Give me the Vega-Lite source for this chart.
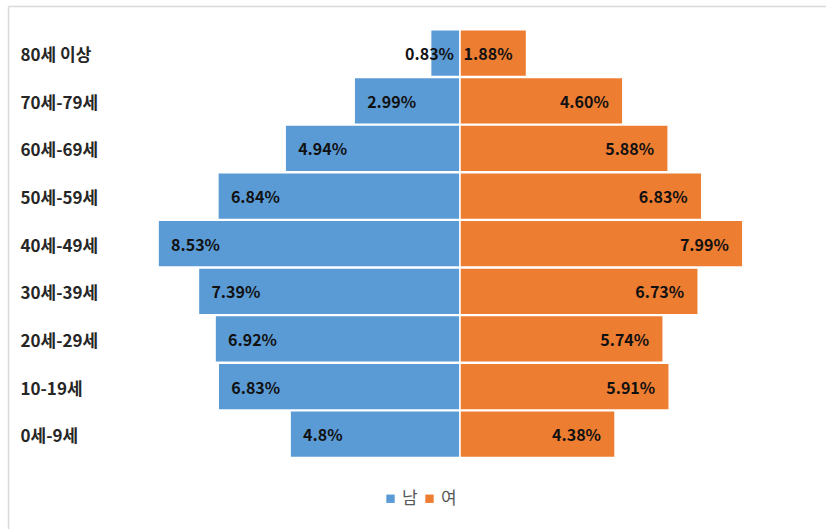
{
  "$schema": "https://vega.github.io/schema/vega-lite/v6.json",
  "width": 818,
  "height": 523,
  "padding": {"left": 8, "top": 6, "right": 0, "bottom": 0},
  "autosize": {"type": "none"},
  "background": "white",
  "config": {
    "view": {"stroke": null},
    "font": "Noto Sans CJK KR"
  },
  "data": {
    "values": [
      {"age": "80세 이상", "sex": "남", "value": 0.83, "label": "0.83%"},
      {"age": "70세-79세", "sex": "남", "value": 2.99, "label": "2.99%"},
      {"age": "60세-69세", "sex": "남", "value": 4.94, "label": "4.94%"},
      {"age": "50세-59세", "sex": "남", "value": 6.84, "label": "6.84%"},
      {"age": "40세-49세", "sex": "남", "value": 8.53, "label": "8.53%"},
      {"age": "30세-39세", "sex": "남", "value": 7.39, "label": "7.39%"},
      {"age": "20세-29세", "sex": "남", "value": 6.92, "label": "6.92%"},
      {"age": "10-19세", "sex": "남", "value": 6.83, "label": "6.83%"},
      {"age": "0세-9세", "sex": "남", "value": 4.8, "label": "4.8%"},
      {"age": "80세 이상", "sex": "여", "value": 1.88, "label": "1.88%"},
      {"age": "70세-79세", "sex": "여", "value": 4.6, "label": "4.60%"},
      {"age": "60세-69세", "sex": "여", "value": 5.88, "label": "5.88%"},
      {"age": "50세-59세", "sex": "여", "value": 6.83, "label": "6.83%"},
      {"age": "40세-49세", "sex": "여", "value": 7.99, "label": "7.99%"},
      {"age": "30세-39세", "sex": "여", "value": 6.73, "label": "6.73%"},
      {"age": "20세-29세", "sex": "여", "value": 5.74, "label": "5.74%"},
      {"age": "10-19세", "sex": "여", "value": 5.91, "label": "5.91%"},
      {"age": "0세-9세", "sex": "여", "value": 4.38, "label": "4.38%"}
    ]
  },
  "transform": [
    {"calculate": "datum.sex === '남' ? -datum.value : datum.value", "as": "signed"}
  ],
  "encoding": {
    "y": {
      "field": "age",
      "type": "nominal",
      "sort": ["80세 이상", "70세-79세", "60세-69세", "50세-59세", "40세-49세", "30세-39세", "20세-29세", "10-19세", "0세-9세"],
      "scale": {"paddingInner": 0.02, "paddingOuter": 1.09, "align": 0.25},
      "axis": {
        "title": null,
        "orient": "left",
        "offset": -12,
        "labelAlign": "left",
        "labelPadding": 0,
        "labelOffset": 3,
        "labelFontSize": 17,
        "labelFontWeight": "bold",
        "labelColor": "#262626",
        "labelFont": "Noto Sans CJK KR",
        "ticks": false,
        "domain": false
      }
    }
  },
  "layer": [
    {
      "mark": {"type": "bar", "stroke": "white", "strokeWidth": 1.5},
      "encoding": {
        "x": {
          "field": "signed",
          "type": "quantitative",
          "scale": {"domain": [-12.77, 10.34], "nice": false, "zero": false},
          "axis": {
            "orient": "top",
            "title": null,
            "labels": false,
            "ticks": false,
            "values": [-12.77],
            "grid": true,
            "gridColor": "#D9D9D9",
            "gridWidth": 1.5,
            "domain": true,
            "domainColor": "#D9D9D9",
            "domainWidth": 1.5
          }
        },
        "color": {
          "field": "sex",
          "type": "nominal",
          "scale": {"domain": ["남", "여"], "range": ["#5B9BD5", "#ED7D31"]},
          "legend": {
            "title": null,
            "orient": "none",
            "direction": "horizontal",
            "legendX": 374,
            "legendY": 484,
            "symbolType": "square",
            "symbolSize": 70,
            "symbolStrokeWidth": 0,
            "labelFontSize": 17,
            "labelColor": "#595959",
            "labelOffset": 3,
            "columnPadding": 3
          }
        }
      }
    },
    {
      "transform": [
        {"filter": "datum.sex === '남'"},
        {"calculate": "-max(datum.value, 1.92)", "as": "lx"}
      ],
      "mark": {"type": "text", "align": "left", "baseline": "middle", "dx": 13, "dy": 2, "fontSize": 16, "fontWeight": "bold", "color": "#111111"},
      "encoding": {
        "x": {"field": "lx", "type": "quantitative"},
        "text": {"field": "label", "type": "nominal"}
      }
    },
    {
      "transform": [{"filter": "datum.sex === '여'"}],
      "mark": {"type": "text", "align": "right", "baseline": "middle", "dx": -14, "dy": 2, "fontSize": 16, "fontWeight": "bold", "color": "#111111"},
      "encoding": {
        "x": {"field": "signed", "type": "quantitative"},
        "text": {"field": "label", "type": "nominal"}
      }
    }
  ]
}
